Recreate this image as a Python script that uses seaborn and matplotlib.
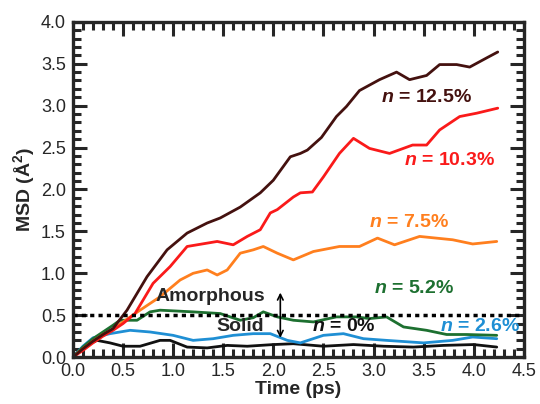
import pandas as pd
import numpy as np
import matplotlib
matplotlib.use("Agg")
import matplotlib.pyplot as plt
from matplotlib.ticker import MultipleLocator
import seaborn as sns

# MSD curves, one pair of lists per concentration
t_125 = [0, 0.1, 0.2, 0.3, 0.4, 0.54, 0.74, 0.94, 1.14, 1.34, 1.47, 1.67, 1.87, 2.0, 2.17,
         2.27, 2.34, 2.48, 2.63, 2.73, 2.86, 3.06, 3.23, 3.36, 3.53, 3.66, 3.83, 3.96, 4.13, 4.24]
v_125 = [0, 0.1, 0.19, 0.27, 0.34, 0.56, 0.96, 1.28, 1.48, 1.60, 1.66, 1.79, 1.96, 2.11, 2.39,
         2.43, 2.47, 2.62, 2.87, 2.99, 3.18, 3.31, 3.40, 3.31, 3.36, 3.49, 3.49, 3.46, 3.57, 3.64]

t_103 = [0, 0.1, 0.2, 0.3, 0.4, 0.5, 0.62, 0.8, 0.97, 1.14, 1.34, 1.44, 1.6, 1.74, 1.87, 1.97,
         2.04, 2.2, 2.27, 2.39, 2.5, 2.66, 2.8, 2.96, 3.16, 3.39, 3.53, 3.66, 3.86, 4.03, 4.24]
v_103 = [0, 0.08, 0.17, 0.25, 0.32, 0.40, 0.52, 0.88, 1.08, 1.32, 1.36, 1.38, 1.34, 1.44, 1.52, 1.72,
         1.76, 1.91, 1.96, 1.97, 2.15, 2.43, 2.61, 2.49, 2.43, 2.53, 2.53, 2.71, 2.87, 2.91, 2.97]

t_75 = [0, 0.1, 0.2, 0.3, 0.4, 0.5, 0.67, 0.87, 1.07, 1.2, 1.34, 1.44, 1.54, 1.67, 1.8, 1.9,
        2.04, 2.2, 2.4, 2.66, 2.86, 3.04, 3.21, 3.46, 3.79, 3.99, 4.23]
v_75 = [0, 0.1, 0.19, 0.27, 0.33, 0.42, 0.56, 0.72, 0.92, 1.0, 1.04, 0.98, 1.04, 1.24, 1.28, 1.32,
        1.24, 1.16, 1.26, 1.32, 1.32, 1.42, 1.34, 1.44, 1.40, 1.35, 1.38]

t_52 = [0, 0.1, 0.2, 0.3, 0.4, 0.47, 0.64, 0.77, 0.87, 1.2, 1.47, 1.67, 1.8, 1.9, 2.04, 2.2,
        2.4, 2.63, 2.83, 2.96, 3.13, 3.3, 3.53, 3.73, 3.93, 4.23]
v_52 = [0, 0.12, 0.22, 0.3, 0.38, 0.44, 0.44, 0.54, 0.56, 0.54, 0.52, 0.44, 0.47, 0.54, 0.48, 0.44,
        0.42, 0.48, 0.48, 0.46, 0.48, 0.36, 0.32, 0.27, 0.27, 0.26]

t_26 = [0, 0.1, 0.2, 0.37, 0.57, 0.77, 1.0, 1.2, 1.4, 1.6, 1.8, 1.97, 2.14, 2.27, 2.5, 2.7,
        2.9, 3.13, 3.5, 3.79, 3.99, 4.23]
v_26 = [0, 0.13, 0.23, 0.28, 0.32, 0.30, 0.26, 0.20, 0.22, 0.26, 0.28, 0.28, 0.20, 0.17, 0.26, 0.28,
        0.22, 0.20, 0.17, 0.20, 0.24, 0.22]

t_0 = [0, 0.1, 0.24, 0.37, 0.5, 0.67, 0.87, 0.97, 1.14, 1.34, 1.54, 1.74, 2.0, 2.2, 2.5, 2.8,
       3.1, 3.4, 3.7, 4.0, 4.23]
v_0 = [0, 0.12, 0.2, 0.17, 0.13, 0.13, 0.2, 0.2, 0.12, 0.11, 0.14, 0.13, 0.15, 0.16, 0.13, 0.15,
       0.13, 0.12, 0.14, 0.15, 0.12]

labels = ["0%", "2.6%", "5.2%", "7.5%", "10.3%", "12.5%"]
colors = {"0%": "#111111", "2.6%": "#1f8fd4", "5.2%": "#1d7030",
          "7.5%": "#ff7f1e", "10.3%": "#fa1a1a", "12.5%": "#44110f"}
series = {"0%": (t_0, v_0), "2.6%": (t_26, v_26), "5.2%": (t_52, v_52),
          "7.5%": (t_75, v_75), "10.3%": (t_103, v_103), "12.5%": (t_125, v_125)}

# label positions (t, msd) for the "n = ..." texts
label_pos = {"12.5%": (3.53, 3.10), "10.3%": (3.76, 2.35), "7.5%": (3.35, 1.61),
             "5.2%": (3.40, 0.82), "0%": (2.70, 0.36), "2.6%": (4.06, 0.36)}

frames = [pd.DataFrame({"time": t, "msd": v, "n": k}) for k, (t, v) in series.items()]
df = pd.concat(frames, ignore_index=True)

sns.set_style("ticks")
plt.rcParams['font.family'] = ['Liberation Sans', 'DejaVu Sans']
plt.rcParams['mathtext.fontset'] = 'custom'
plt.rcParams['mathtext.it'] = 'Liberation Sans:italic:bold'
plt.rcParams['mathtext.bf'] = 'Liberation Sans:bold'
plt.rcParams['mathtext.rm'] = 'Liberation Sans:bold'

fig = plt.figure(figsize=(5.4, 4.04), dpi=100)
ax = fig.add_axes([0.135, 0.116, 0.835, 0.83])

sns.lineplot(data=df, x="time", y="msd", hue="n", palette=colors, hue_order=labels,
             sort=False, estimator=None, lw=2, legend=False, ax=ax)

ax.axhline(0.5, color="black", lw=2.5, dashes=(1.2, 1.2))

for k in labels:
    x, y = label_pos[k]
    ax.text(x, y, "$n$ = " + k, color=colors[k], fontsize=14, fontweight="bold",
            ha="center", va="center")

ax.text(1.37, 0.72, "Amorphous", fontsize=14, fontweight="bold", ha="center", va="center")
ax.text(1.67, 0.36, "Solid", fontsize=14, fontweight="bold", ha="center", va="center")
ax.annotate("", xy=(2.07, 0.23), xytext=(2.07, 0.77),
            arrowprops=dict(arrowstyle="<->", lw=1.2, color="black",
                            shrinkA=0, shrinkB=0))

ax.set_xlim(0, 4.5)
ax.set_ylim(0, 4.0)
ax.xaxis.set_major_locator(MultipleLocator(0.5))
ax.xaxis.set_minor_locator(MultipleLocator(0.1))
ax.yaxis.set_major_locator(MultipleLocator(0.5))
ax.yaxis.set_minor_locator(MultipleLocator(0.1))
ax.tick_params(which="both", direction="in", top=True, right=True, width=2.2, labelsize=13)
ax.tick_params(which="major", length=10)
ax.tick_params(which="minor", length=5.5)
ax.tick_params(axis="x", which="both", pad=4)
ax.tick_params(axis="y", which="both", pad=5)
for s in ax.spines.values():
    s.set_linewidth(2.4)

ax.set_xlabel("Time (ps)", fontsize=14, fontweight="bold", labelpad=1)
ax.set_ylabel("MSD (Å$^{\\mathbf{2}}$)", fontsize=14, fontweight="bold", labelpad=3)

fig.savefig("out.png", dpi=100)
